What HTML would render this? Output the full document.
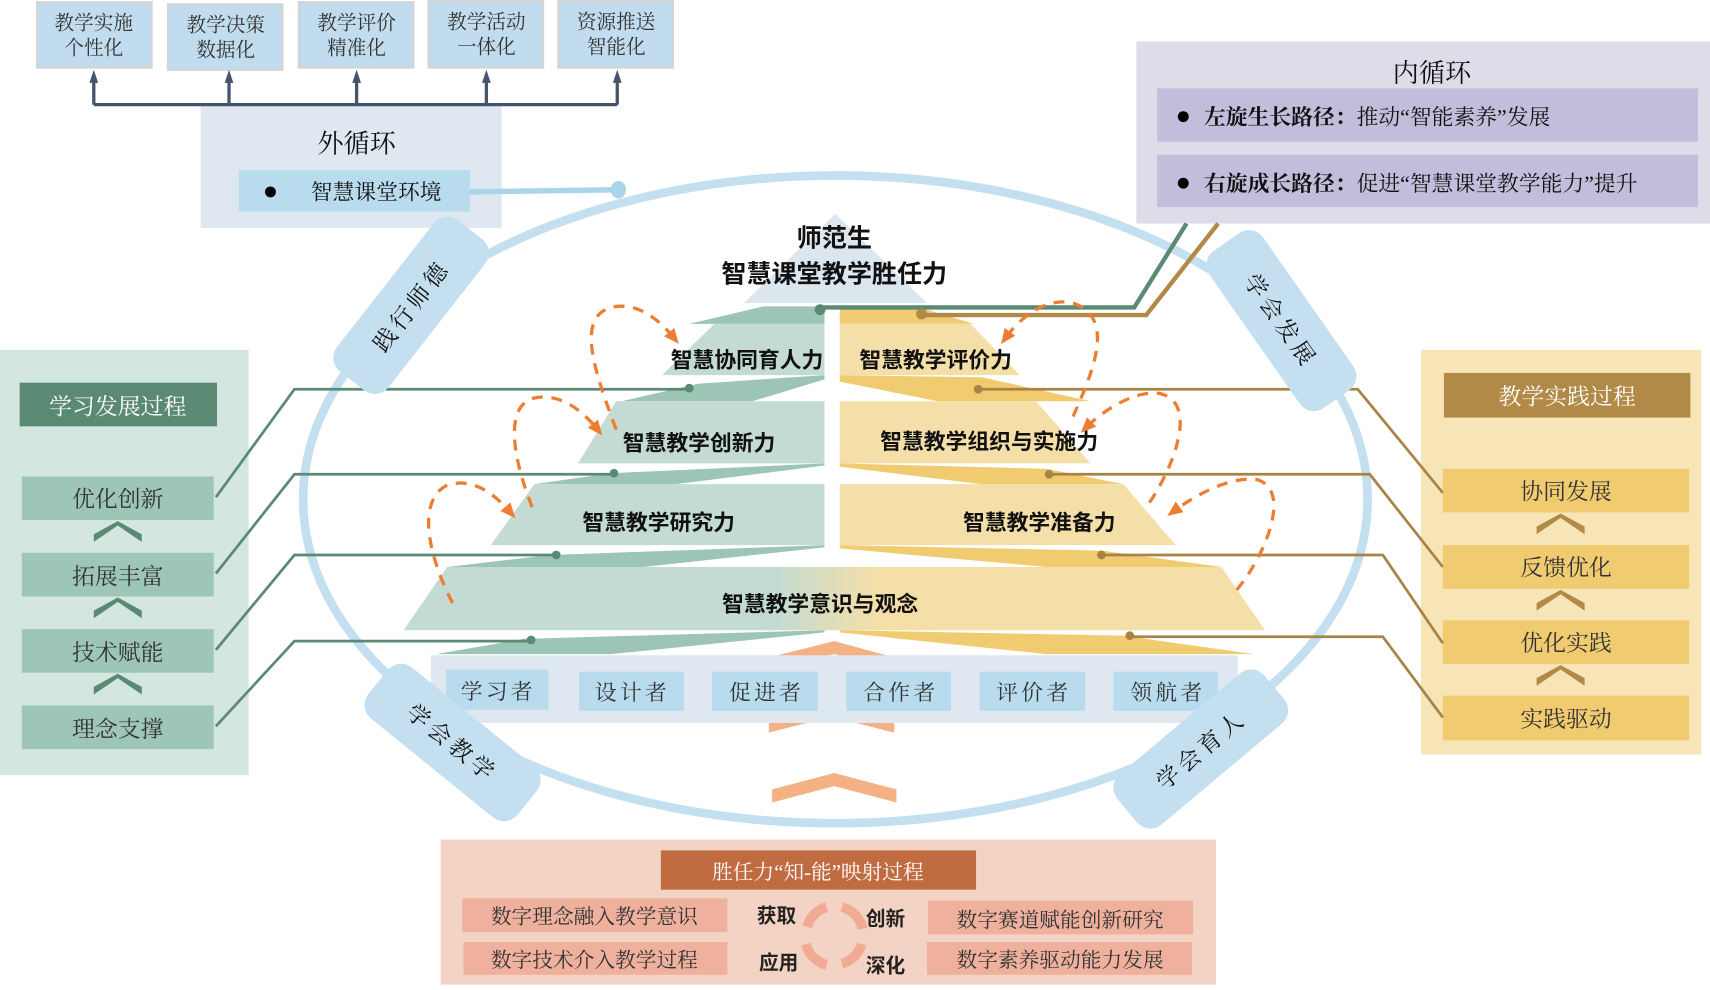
<!DOCTYPE html>
<html><head><meta charset="utf-8"><style>
html,body{margin:0;padding:0;background:#fff;}
svg{display:block;}
.s{font-family:"Liberation Serif","Noto Serif CJK SC",serif;}
.b{font-family:"Liberation Sans","Noto Sans CJK SC",sans-serif;font-weight:bold;}
</style></head><body>
<svg width="1710" height="990" viewBox="0 0 1568 908" preserveAspectRatio="none" xmlns="http://www.w3.org/2000/svg">
<defs>
<linearGradient id="gl" x1="0" x2="1" y1="0" y2="0">
<stop offset="0" stop-color="#c3dbd3"/><stop offset="0.43" stop-color="#c3dbd3"/><stop offset="0.55" stop-color="#f5dfa8"/><stop offset="1" stop-color="#f5dfa8"/></linearGradient>
<marker id="ah" markerUnits="userSpaceOnUse" markerWidth="12" markerHeight="12" refX="6" refY="6" orient="auto"><path d="M0,2 L12,6 L0,10 z" fill="#44546a"/></marker>
<marker id="oa" markerUnits="userSpaceOnUse" markerWidth="14" markerHeight="14" refX="7" refY="7" orient="auto"><path d="M0,1 L14,7 L0,13 z" fill="#ed7d31"/></marker>
</defs>

<!-- top boxes -->
<g class="s" font-size="18" fill="#333" text-anchor="middle">
<rect x="34" y="2" width="105" height="60" fill="#c0dcee" stroke="#d4d4d4" stroke-width="2"/>
<text x="86" y="27">教学实施</text><text x="86" y="50">个性化</text>
<rect x="154" y="4" width="105" height="60" fill="#c0dcee" stroke="#d4d4d4" stroke-width="2"/>
<text x="207" y="29">教学决策</text><text x="207" y="52">数据化</text>
<rect x="274" y="2" width="105" height="60" fill="#c0dcee" stroke="#d4d4d4" stroke-width="2"/>
<text x="327" y="27">教学评价</text><text x="327" y="50">精准化</text>
<rect x="393" y="1" width="105" height="61" fill="#c0dcee" stroke="#d4d4d4" stroke-width="2"/>
<text x="446" y="26">教学活动</text><text x="446" y="49">一体化</text>
<rect x="512" y="1" width="105" height="61" fill="#c0dcee" stroke="#d4d4d4" stroke-width="2"/>
<text x="565" y="26">资源推送</text><text x="565" y="49">智能化</text>
</g>
<rect x="184" y="97" width="276" height="112" fill="#dfe8f0"/>
<g stroke="#44546a" stroke-width="3" fill="none">
<path d="M86,96 H566"/>
<path d="M86,96 V70" marker-end="url(#ah)"/><path d="M210,96 V70" marker-end="url(#ah)"/><path d="M327,96 V70" marker-end="url(#ah)"/><path d="M446,96 V70" marker-end="url(#ah)"/><path d="M566,96 V70" marker-end="url(#ah)"/>
</g>
<text x="327" y="140" class="s" font-size="24" text-anchor="middle" fill="#111">外循环</text>
<rect x="219" y="156" width="212" height="38" fill="#b8dcee"/>
<circle cx="248" cy="176" r="5" fill="#000"/>
<text x="285" y="183" class="s" font-size="20" fill="#111">智慧课堂环境</text>
<path d="M431,176 L567,174" stroke="#a9d4ea" stroke-width="5"/>
<ellipse cx="567" cy="174" rx="7" ry="8" fill="#a9d4ea"/>

<!-- inner loop box -->
<rect x="1042" y="38" width="526" height="167" fill="#dedce8"/>
<text x="1313" y="75" class="s" font-size="24" text-anchor="middle" fill="#111">内循环</text>
<rect x="1061" y="81" width="496" height="49" fill="#c3bcda"/>
<rect x="1061" y="142" width="496" height="48" fill="#c3bcda"/>
<circle cx="1085" cy="107" r="5" fill="#000"/><circle cx="1085" cy="168" r="5" fill="#000"/>
<text x="1104" y="114" class="s" font-size="20" fill="#111"><tspan font-weight="bold">左旋生长路径：</tspan>推动“智能素养”发展</text>
<text x="1104" y="175" class="s" font-size="20" fill="#111"><tspan font-weight="bold">右旋成长路径：</tspan>促进“智慧课堂教学能力”提升</text>

<!-- ellipse -->
<ellipse cx="766" cy="458" rx="488" ry="297" fill="none" stroke="#c4dff0" stroke-width="8"/>

<!-- left panel -->
<rect x="0" y="321" width="228" height="390" fill="#d3e6e0"/>
<rect x="18" y="351" width="181" height="40" fill="#5a8a74"/>
<text x="108" y="380" class="s" font-size="21" fill="#fff" text-anchor="middle">学习发展过程</text>
<g class="s" font-size="21" fill="#333" text-anchor="middle">
<rect x="20" y="437" width="176" height="40" fill="#9dc6b6"/><text x="108" y="465">优化创新</text>
<rect x="20" y="507" width="176" height="40" fill="#9dc6b6"/><text x="108" y="536">拓展丰富</text>
<rect x="20" y="577" width="176" height="40" fill="#9dc6b6"/><text x="108" y="606">技术赋能</text>
<rect x="20" y="647" width="176" height="40" fill="#9dc6b6"/><text x="108" y="676">理念支撑</text>
</g>
<g fill="#5a8a74">
<path d="M86,497 L108,482 L130,497 L130,490 L108,478 L86,490 z"/>
<path d="M86,567 L108,552 L130,567 L130,560 L108,548 L86,560 z"/>
<path d="M86,637 L108,622 L130,637 L130,630 L108,618 L86,630 z"/>
</g>

<!-- right panel -->
<rect x="1303" y="321" width="257" height="371" fill="#f7e5b8"/>
<rect x="1324" y="342" width="226" height="41" fill="#b08a46"/>
<text x="1437" y="371" class="s" font-size="21" fill="#fff" text-anchor="middle">教学实践过程</text>
<g class="s" font-size="21" fill="#333" text-anchor="middle">
<rect x="1323" y="430" width="226" height="40" fill="#f0cb70"/><text x="1436" y="458">协同发展</text>
<rect x="1323" y="500" width="226" height="40" fill="#f0cb70"/><text x="1436" y="528">反馈优化</text>
<rect x="1323" y="569" width="226" height="40" fill="#f0cb70"/><text x="1436" y="597">优化实践</text>
<rect x="1323" y="638" width="226" height="41" fill="#f0cb70"/><text x="1436" y="667">实践驱动</text>
</g>
<g fill="#b08a46">
<path d="M1409,490 L1431,475 L1453,490 L1453,483 L1431,471 L1409,483 z"/>
<path d="M1409,560 L1431,545 L1453,560 L1453,553 L1431,541 L1409,553 z"/>
<path d="M1409,629 L1431,614 L1453,629 L1453,622 L1431,610 L1409,622 z"/>
</g>

<!-- apex -->
<path d="M766,196 L850,278 L682,278 z" fill="#dce6ee"/>
<path d="M632,297 L700,281 L756,281 L756,297 z" fill="#9cc5b5"/>
<path d="M770,281 L840,281 L893,297 L770,297 z" fill="#f0cb70"/>
<path d="M655,297 L756,297 L756,344 L607,344 z" fill="#c3dbd3"/>
<path d="M570,368 L690,368 L756,348 L756,344 L640,352 z" fill="#9cc5b5"/>
<path d="M565,368 L756,368 L756,425 L530,425 z" fill="#c3dbd3"/>
<path d="M490,444 L620,444 L756,427 L756,425 L560,434 z" fill="#9cc5b5"/>
<path d="M490,444 L756,444 L756,500 L450,500 z" fill="#c3dbd3"/>
<path d="M410,520 L590,520 L756,502 L756,500 L505,509 z" fill="#9cc5b5"/>
<path d="M770,297 L890,297 L935,344 L770,344 z" fill="#f5dfa8"/>
<path d="M770,344 L900,346 L1000,368 L860,368 L770,350 z" fill="#f0cb70"/>
<path d="M770,368 L950,368 L1000,425 L770,425 z" fill="#f5dfa8"/>
<path d="M770,425 L960,430 L1030,444 L900,444 L770,428 z" fill="#f0cb70"/>
<path d="M770,444 L1030,444 L1078,500 L770,500 z" fill="#f5dfa8"/>
<path d="M770,500 L1010,505 L1120,520 L960,520 L770,503 z" fill="#f0cb70"/>
<path d="M410,520 L1120,520 L1160,578 L370,578 z" fill="url(#gl)"/>
<path d="M400,600 L560,600 L756,580 L756,578 L480,586 z" fill="#9cc5b5"/>
<path d="M770,578 L1030,583 L1150,600 L960,600 L770,580 z" fill="#f0cb70"/>

<g fill="#f4b183">
<path d="M705,603 L765,588 L820,603 L820,614 L765,600 L705,614 z"/>
<path d="M705,663 L740,663 L705,672 z"/><path d="M820,663 L785,663 L820,672 z"/>
<path d="M708,724 L765,709 L822,724 L822,736 L765,721 L708,736 z"/>
</g>
<rect x="395" y="601" width="740" height="62" fill="#dfe8f0"/>
<g class="s" font-size="20" fill="#333" text-anchor="middle" letter-spacing="3">
<rect x="409" y="614" width="94" height="37" fill="#b8dcee"/><text x="457" y="641">学习者</text>
<rect x="531" y="616" width="96" height="36" fill="#b8dcee"/><text x="580" y="642">设计者</text>
<rect x="653" y="616" width="97" height="36" fill="#b8dcee"/><text x="703" y="642">促进者</text>
<rect x="776" y="616" width="96" height="36" fill="#b8dcee"/><text x="826" y="642">合作者</text>
<rect x="898" y="616" width="97" height="36" fill="#b8dcee"/><text x="948" y="642">评价者</text>
<rect x="1021" y="616" width="96" height="36" fill="#b8dcee"/><text x="1071" y="642">领航者</text>
</g>

<g stroke="#5a8a74" stroke-width="2.5" fill="none">
<path d="M632,357 H270 L198,456"/>
<path d="M563,435 H270 L198,526"/>
<path d="M510,509 H270 L198,596"/>
<path d="M487,588 H270 L198,666"/>
</g>
<g fill="#5a8a74"><circle cx="632" cy="356" r="4"/><circle cx="563" cy="434" r="4"/><circle cx="510" cy="509" r="4"/><circle cx="487" cy="587" r="4"/></g>
<g stroke="#a88345" stroke-width="2.5" fill="none">
<path d="M897,357 H1245 L1323,452"/>
<path d="M962,435 H1256 L1323,520"/>
<path d="M1010,509 H1268 L1323,590"/>
<path d="M1036,584 H1268 L1323,658"/>
</g>
<g fill="#a88345"><circle cx="897" cy="357" r="4"/><circle cx="962" cy="435" r="4"/><circle cx="1010" cy="509" r="4"/><circle cx="1036" cy="583" r="4"/></g>
<path d="M1088,205 L1040,282 H752" stroke="#5a8a74" stroke-width="4" fill="none"/>
<path d="M1117,205 L1051,289 H845" stroke="#b08a46" stroke-width="4" fill="none"/>
<circle cx="752" cy="284" r="5" fill="#5a8a74"/><circle cx="845" cy="288" r="5" fill="#b08a46"/>

<text x="765" y="226" class="b" font-size="23" text-anchor="middle" fill="#111" font-weight="normal">师范生</text>
<text x="765" y="259" class="b" font-size="23" text-anchor="middle" fill="#111">智慧课堂教学胜任力</text>
<g class="b" font-size="20" fill="#111" text-anchor="middle">
<text x="685" y="337">智慧协同育人力</text>
<text x="858" y="337">智慧教学评价力</text>
<text x="641" y="413">智慧教学创新力</text>
<text x="907" y="412">智慧教学组织与实施力</text>
<text x="604" y="486">智慧教学研究力</text>
<text x="953" y="486">智慧教学准备力</text>
<text x="752" y="561">智慧教学意识与观念</text>
</g>

<g stroke="#ed7d31" stroke-width="3" fill="none" stroke-dasharray="10,8">
<path d="M565,394 C545,340 528,292 560,282 C585,276 605,294 618,310" marker-end="url(#oa)"/>
<path d="M488,465 C470,420 462,372 490,365 C515,360 535,378 548,394" marker-end="url(#oa)"/>
<path d="M415,553 C395,515 380,460 410,445 C435,437 455,455 468,470" marker-end="url(#oa)"/>
<path d="M984,382 C1000,345 1025,292 984,278 C958,272 935,292 922,310" marker-end="url(#oa)"/>
<path d="M1054,461 C1075,430 1100,370 1064,361 C1040,357 1010,378 996,392" marker-end="url(#oa)"/>
<path d="M1134,541 C1160,510 1185,450 1153,440 C1128,436 1095,455 1076,469" marker-end="url(#oa)"/>
</g>

<g class="s" font-size="21" fill="#111" text-anchor="middle">
<g transform="translate(377,280) rotate(-52)"><rect x="-88" y="-30" width="176" height="60" rx="16" fill="#c4dff0"/><text x="0" y="8" letter-spacing="4">践行师德</text></g>
<g transform="translate(1175,294) rotate(55)"><rect x="-88" y="-30" width="176" height="60" rx="16" fill="#c4dff0"/><text x="0" y="8" letter-spacing="4">学会发展</text></g>
<g transform="translate(415,681) rotate(39)"><rect x="-88" y="-30" width="176" height="60" rx="16" fill="#c4dff0"/><text x="0" y="8" letter-spacing="4">学会教学</text></g>
<g transform="translate(1101,687) rotate(-40)"><rect x="-88" y="-30" width="176" height="60" rx="16" fill="#c4dff0"/><text x="0" y="8" letter-spacing="4">学会育人</text></g>
</g>

<rect x="404" y="770" width="711" height="133" fill="#f3d3c3"/>
<rect x="606" y="780" width="289" height="36" fill="#c06b40"/>
<text x="750" y="806" class="s" font-size="19" fill="#fff" text-anchor="middle">胜任力“知-能”映射过程</text>
<g class="s" font-size="19" fill="#333" text-anchor="middle">
<rect x="424" y="824" width="243" height="31" fill="#efb09d"/><text x="545" y="847">数字理念融入教学意识</text>
<rect x="425" y="864" width="242" height="30" fill="#efb09d"/><text x="545" y="887">数字技术介入教学过程</text>
<rect x="851" y="826" width="243" height="31" fill="#efb09d"/><text x="972" y="850">数字赛道赋能创新研究</text>
<rect x="850" y="864" width="243" height="30" fill="#efb09d"/><text x="972" y="887">数字素养驱动能力发展</text>
</g>
<g class="b" font-size="18" fill="#222" text-anchor="middle" font-weight="normal">
<text x="712" y="846">获取</text><text x="714" y="889">应用</text>
<text x="812" y="849">创新</text><text x="812" y="892">深化</text>
</g>
<g stroke="#f1a68f" stroke-width="9" fill="none" opacity="0.9">
<path d="M740,850 A26,26 0 0 1 758,832"/>
<path d="M772,832 A26,26 0 0 1 791,852"/>
<path d="M790,866 A26,26 0 0 1 772,884"/>
<path d="M758,885 A26,26 0 0 1 739,866"/>
</g>
</svg>
</body></html>
